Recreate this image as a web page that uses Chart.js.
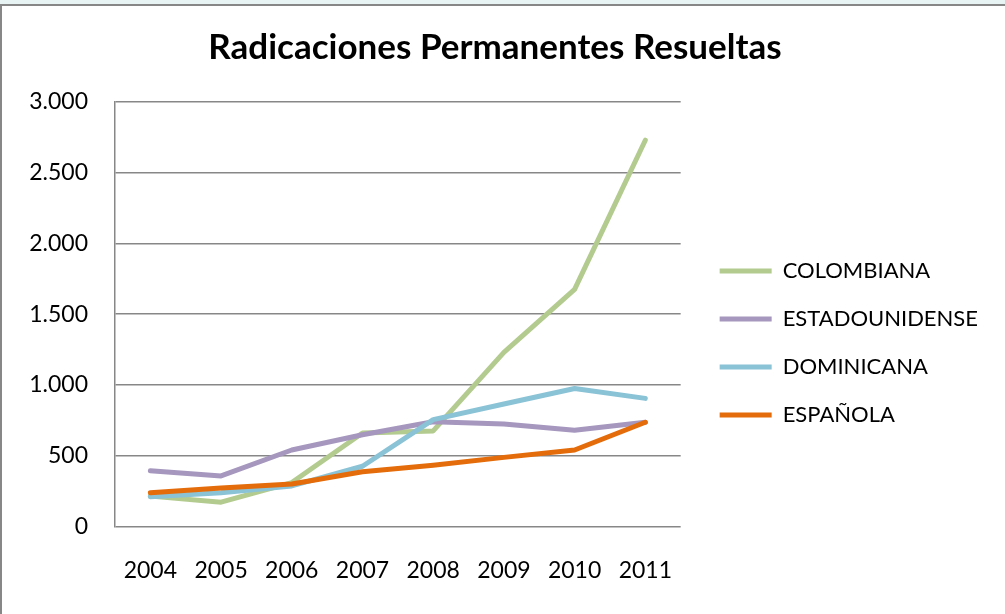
<!DOCTYPE html>
<html>
<head>
<meta charset="utf-8">
<script src="https://cdn.jsdelivr.net/npm/chart.js@4.4.1/dist/chart.umd.min.js"></script>
<style>
	body { margin: 0; background: #e8f4f4; }
	#wrap {
		position: absolute; top: 4px; left: 0;
		width: 1003px; height: 608px;
		border-top: 2px solid #878787; border-left: 2px solid #878787;
		background: #ffffff;
	}
</style>
</head>
<body>
<div id="wrap"><canvas id="radChart" width="1003" height="608"></canvas></div>
<script>
var years = ["2004", "2005", "2006", "2007", "2008", "2009", "2010", "2011"];
var colombiana = [214, 171, 310, 660, 675, 1230, 1675, 2730];
var estadounidense = [393, 357, 540, 648, 740, 724, 680, 736];
var dominicana = [210, 238, 286, 425, 755, 865, 975, 905];
var espanola = [238, 272, 300, 386, 433, 488, 540, 736];

var fontFamily = "Lato, 'Open Sans', sans-serif";
var gridColor = "#878787";

function lineSet(label, values, color, order) {
	return {
		label: label,
		data: values,
		borderColor: color,
		backgroundColor: color,
		borderWidth: 5,
		pointRadius: 0,
		tension: 0,
		borderCapStyle: "round",
		borderJoinStyle: "round",
		order: order,
	};
}

// legend samples: thin filled bars, no stroke
function legendLabels(chart) {
	var items = Chart.defaults.plugins.legend.labels.generateLabels(chart);
	items.forEach(function (item) {
		item.lineWidth = 0;
	});
	return items;
}

var chartConfig = {
	type: "line",
	data: {
		labels: years,
		datasets: [
			lineSet("COLOMBIANA", colombiana, "#b3cb8f", 4),
			lineSet("ESTADOUNIDENSE", estadounidense, "#a597be", 3),
			lineSet("DOMINICANA", dominicana, "#8ac2d6", 2),
			lineSet("ESPAÑOLA", espanola, "#e46c0a", 1),
		],
	},
	options: {
		responsive: false,
		animation: false,
		layout: { padding: { top: 0, right: 17, bottom: 0, left: 0 } },
		plugins: {
			tooltip: { enabled: false },
			title: {
				display: true,
				text: "Radicaciones Permanentes Resueltas",
				color: "#000000",
				font: { family: fontFamily, size: 35, weight: "bold" },
				padding: { top: 21, bottom: 33 },
			},
			legend: {
				position: "right",
				maxWidth: 400,
				title: {
					display: true,
					text: "",
					font: { size: 4 },
					padding: { top: 0, bottom: 61 },
				},
				labels: {
					color: "#000000",
					font: { family: fontFamily, size: 22 },
					boxWidth: 52,
					boxHeight: 5,
					padding: 26,
					generateLabels: legendLabels,
					sort: function (a, b) { return a.datasetIndex - b.datasetIndex; },
				},
			},
		},
		scales: {
			x: {
				offset: true,
				grid: { display: false, drawTicks: false },
				border: { display: false },
				ticks: {
					color: "#000000",
					font: { family: fontFamily, size: 23 },
					padding: 30,
					maxRotation: 0,
				},
			},
			y: {
				min: 0,
				max: 3000,
				grid: { color: gridColor, lineWidth: 1.5, drawTicks: false },
				border: { display: true, color: gridColor, width: 1.5 },
				ticks: {
					stepSize: 500,
					color: "#000000",
					font: { family: fontFamily, size: 23 },
					padding: 27,
					callback: function (value) {
						return value.toLocaleString("de-DE");
					},
				},
				afterFit: function (scale) {
					scale.width = 113;
				},
			},
			spacer: {
				position: "right",
				display: true,
				grid: { display: false, drawTicks: false },
				border: { display: false },
				ticks: { display: false },
				afterFit: function (scale) {
					scale.width = 13;
				},
			},
		},
	},
};

new Chart(document.getElementById("radChart"), chartConfig);
</script>
</body>
</html>
